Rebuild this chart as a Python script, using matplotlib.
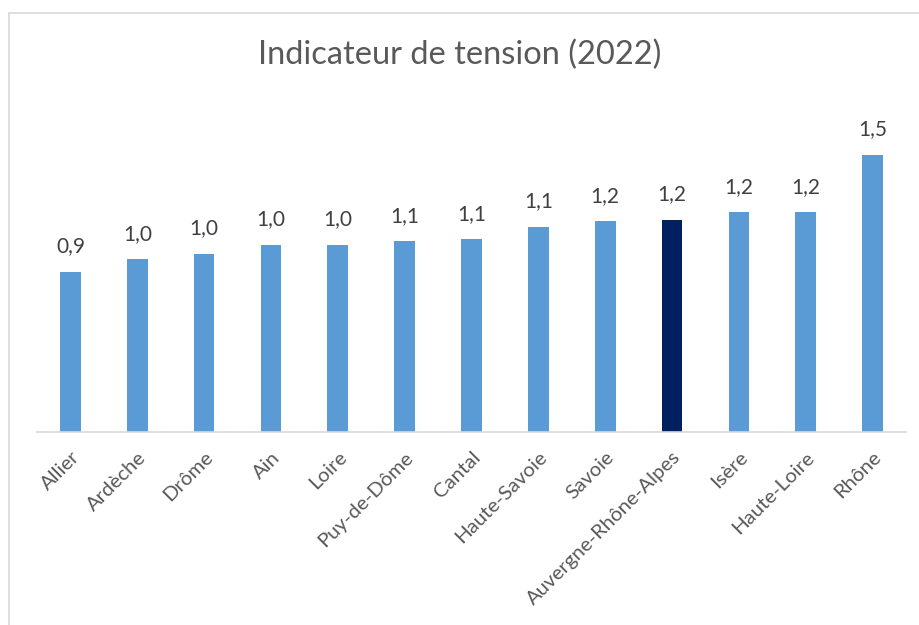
import matplotlib
matplotlib.use("Agg")
import matplotlib.pyplot as plt
from matplotlib.patches import Rectangle

departements = ["Allier", "Ardèche", "Drôme", "Ain", "Loire", "Puy-de-Dôme", "Cantal",
                "Haute-Savoie", "Savoie", "Auvergne-Rhône-Alpes", "Isère", "Haute-Loire", "Rhône"]
tension = [0.89, 0.96, 0.99, 1.04, 1.04, 1.06, 1.07, 1.14, 1.17, 1.18, 1.22, 1.22, 1.54]
region = "Auvergne-Rhône-Alpes"

plt.rcParams['font.family'] = ['Lato', 'DejaVu Sans']

W, H = 920, 625
fig = plt.figure(figsize=(W / 100, H / 100), dpi=100)

# thin grey chart border (open on right / bottom like the crop)
fig.patches.append(Rectangle((9 / W, -0.1), 1.2, 1 - 13 / H + 0.1, transform=fig.transFigure,
                             fill=False, edgecolor="#d9d9d9", linewidth=1.2))

ax = fig.add_axes([37 / W, 193 / H, 869 / W, 324 / H])

couleurs = ["#002060" if d == region else "#5b9bd5" for d in departements]
bars = ax.bar(range(len(departements)), tension, width=0.31, color=couleurs)

for b, v in zip(bars, tension):
    ax.text(b.get_x() + b.get_width() / 2, v + 0.085, f"{v:.1f}".replace(".", ","),
            ha="center", va="bottom", fontsize=15, color="#404040")

ax.set_xlim(-0.5, len(departements) - 0.5)
ax.set_ylim(0, 1.8)
ax.set_yticks([])
for s in ["top", "right", "left"]:
    ax.spines[s].set_visible(False)
ax.spines["bottom"].set_color("#d9d9d9")
ax.spines["bottom"].set_linewidth(1.2)

ax.set_xticks(range(len(departements)))
ax.set_xticklabels(departements, rotation=45, ha="right", rotation_mode="anchor",
                   fontsize=14.7, color="#595959")
ax.tick_params(axis="x", length=0, pad=12)

fig.text(0.5, 1 - 55 / H, "Indicateur de tension (2022)", ha="center", va="center",
         fontsize=23.5, color="#595959")

fig.savefig("out.png", dpi=100)
